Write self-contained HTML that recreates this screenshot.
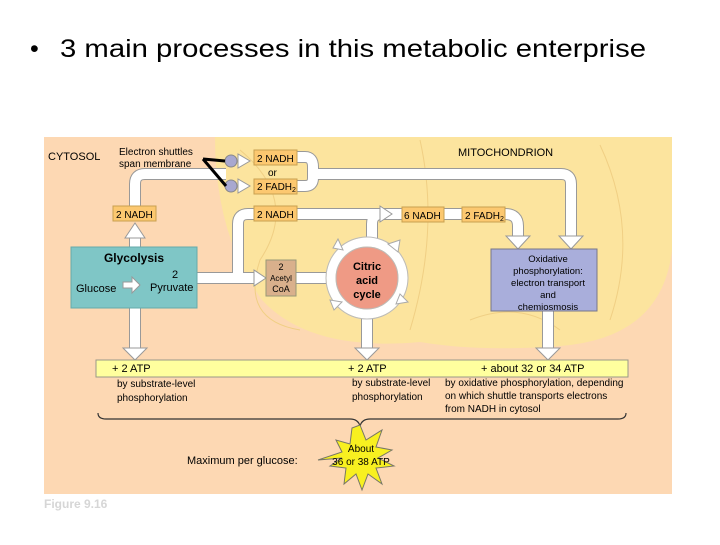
<!DOCTYPE html>
<html><head><meta charset="utf-8"><style>
body{margin:0;width:720px;height:540px;background:#fff;overflow:hidden;font-family:"Liberation Sans",sans-serif}
</style></head><body>
<svg width="720" height="540" xmlns="http://www.w3.org/2000/svg" font-family="Liberation Sans, sans-serif">
<text x="30" y="57" font-size="25" fill="#000">•</text>
<text x="60" y="57" font-size="25" fill="#000" textLength="586" lengthAdjust="spacingAndGlyphs">3 main processes in this metabolic enterprise</text>
<rect x="44" y="137" width="628" height="357" fill="#fdd8b3"/>
<path d="M215,137 L672,137 L672,250 Q662,338 560,346 Q480,352 420,342 Q310,352 262,300 Q215,235 215,137 Z" fill="#fce49e"/>
<g fill="none" stroke="#f0cf84" stroke-width="1">
<path d="M240,150 Q300,200 260,260 Q240,320 300,330"/>
<path d="M420,140 Q440,230 410,330"/>
<path d="M600,145 Q640,230 610,320"/>
<path d="M470,320 Q520,300 560,330"/>
</g>
<g stroke-linecap="butt" stroke-linejoin="round" fill="none">
<g stroke="#999" stroke-width="12">
<path d="M135,247 V238"/><path d="M135,206 V184 Q135,174 145,174 H226"/>
<path d="M297,157 H305 Q313,157 313,167 V178 Q313,186 305,186 H297"/>
<path d="M313,174 H561 Q571,174 571,184 V236"/>
<path d="M135,308 V348"/>
<path d="M197,278 H254"/><path d="M238,278 V224 Q238,214 248,214 H254"/>
<path d="M297,214 H380"/>
<path d="M296,278 H326"/>
<path d="M367,316 V348"/>
<path d="M372,242 V224 Q372,214 382,214 H402"/><path d="M444,214 H462"/><path d="M505,214 Q518,214 518,226 V236"/>
<path d="M548,311 V348"/>
</g>
<g stroke="#fff" stroke-width="10">
<path d="M135,247 V238"/><path d="M135,206 V184 Q135,174 145,174 H226"/>
<path d="M297,157 H305 Q313,157 313,167 V178 Q313,186 305,186 H297"/>
<path d="M313,174 H561 Q571,174 571,184 V236"/>
<path d="M135,308 V348"/>
<path d="M197,278 H254"/><path d="M238,278 V224 Q238,214 248,214 H254"/>
<path d="M297,214 H380"/>
<path d="M296,278 H326"/>
<path d="M367,316 V348"/>
<path d="M372,242 V224 Q372,214 382,214 H402"/><path d="M444,214 H462"/><path d="M505,214 Q518,214 518,226 V236"/>
<path d="M548,311 V348"/>
</g>
</g>
<g fill="#fff" stroke="#999" stroke-width="1">
<polygon points="125,238 145,238 135,223"/>
<polygon points="254,270 254,286 266,278"/>
<polygon points="380,206 380,222 392,214"/>
<polygon points="559,236 583,236 571,249"/>
<polygon points="506,236 530,236 518,249"/>
<polygon points="123,348 147,348 135,360"/>
<polygon points="355,348 379,348 367,360"/>
<polygon points="536,348 560,348 548,360"/>
<polygon points="238,154 238,168 250,161"/>
<polygon points="238,179 238,193 250,186"/>
</g>
<circle cx="367" cy="278" r="36" fill="none" stroke="#fff" stroke-width="9"/>
<circle cx="367" cy="278" r="41" fill="none" stroke="#bbb" stroke-width="1"/>
<circle cx="367" cy="278" r="31" fill="#ef9a85" stroke="#bbb"/>
<g fill="#fff" stroke="#aaa"><polygon points="388,244 400,240 398,252"/><polygon points="333,248 338,239 343,250"/><polygon points="400,294 408,302 396,304"/><polygon points="334,310 330,300 342,302"/></g>
<text x="367" y="270" font-size="11" font-weight="bold" text-anchor="middle">Citric</text>
<text x="367" y="284" font-size="11" font-weight="bold" text-anchor="middle">acid</text>
<text x="367" y="298" font-size="11" font-weight="bold" text-anchor="middle">cycle</text>
<circle cx="231" cy="161" r="6" fill="#a8a8d0" stroke="#888"/>
<circle cx="231" cy="186" r="6" fill="#a8a8d0" stroke="#888"/>
<path d="M203,159 L225,161 M203,159 L226,186" stroke="#000" stroke-width="3"/>
<g fill="#fcc870" stroke="#c9a050">
<rect x="254" y="150" width="43" height="15"/><rect x="254" y="179" width="43" height="15"/>
<rect x="113" y="206" width="43" height="15"/><rect x="254" y="206" width="43" height="15"/>
<rect x="402" y="207" width="42" height="15"/><rect x="462" y="207" width="43" height="15"/>
</g>
<g font-size="10" fill="#000">
<text x="257" y="162">2 NADH</text><text x="268" y="176">or</text><text x="257" y="190">2 FADH<tspan font-size="7" dy="2">2</tspan></text>
<text x="116" y="218">2 NADH</text><text x="257" y="218">2 NADH</text>
<text x="404" y="219">6 NADH</text><text x="465" y="219">2 FADH<tspan font-size="7" dy="2">2</tspan></text>
</g>
<text x="48" y="160" font-size="11">CYTOSOL</text>
<text x="119" y="155" font-size="10">Electron shuttles</text>
<text x="119" y="167" font-size="10">span membrane</text>
<text x="458" y="156" font-size="11">MITOCHONDRION</text>
<rect x="71" y="247" width="126" height="61" fill="#7fc6c6" stroke="#6aa"/>
<text x="134" y="262" font-size="12" font-weight="bold" text-anchor="middle">Glycolysis</text>
<text x="76" y="292" font-size="11">Glucose</text>
<polygon points="123,282 132,282 132,277 140,285 132,293 132,288 123,288" fill="#fff" stroke="#999"/>
<text x="175" y="278" font-size="11" text-anchor="middle">2</text>
<text x="150" y="291" font-size="11">Pyruvate</text>
<rect x="266" y="260" width="30" height="36" fill="#d9b08c" stroke="#997"/>
<text x="281" y="270" font-size="9" text-anchor="middle">2</text>
<text x="281" y="281" font-size="8" text-anchor="middle">Acetyl</text>
<text x="281" y="292" font-size="9" text-anchor="middle">CoA</text>
<rect x="491" y="249" width="106" height="62" fill="#a9aedb" stroke="#778"/>
<g font-size="9.5" text-anchor="middle"><text x="548" y="262">Oxidative</text><text x="548" y="274">phosphorylation:</text><text x="548" y="286">electron transport</text><text x="548" y="298">and</text><text x="548" y="310">chemiosmosis</text></g>
<rect x="96" y="360" width="532" height="17" fill="#ffff9e" stroke="#998"/>
<g font-size="11"><text x="112" y="372">+ 2 ATP</text><text x="348" y="372">+ 2 ATP</text><text x="481" y="372">+ about 32 or 34 ATP</text></g>
<g font-size="10"><text x="117" y="387">by substrate-level</text><text x="117" y="401">phosphorylation</text>
<text x="352" y="386">by substrate-level</text><text x="352" y="400">phosphorylation</text>
<text x="445" y="386">by oxidative phosphorylation, depending</text><text x="445" y="399">on which shuttle transports electrons</text><text x="445" y="412">from NADH in cytosol</text></g>
<path d="M98,413 Q98,419 106,419 H350 Q358,419 360,426 Q362,419 370,419 H618 Q626,419 626,413" fill="none" stroke="#333" stroke-width="1.2"/>
<polygon points="360,425 366,440 382,430 376,447 392,450 378,458 394,466 376,468 382,484 368,474 362,490 356,474 344,484 346,468 330,466 342,458 318,460 342,452 336,440 350,444 352,428" fill="#f8f020" stroke="#776"/>
<text x="361" y="452" font-size="10" text-anchor="middle">About</text>
<text x="361" y="465" font-size="10" text-anchor="middle">36 or 38 ATP</text>
<text x="187" y="464" font-size="11">Maximum per glucose:</text>
<text x="44" y="508" font-size="12" font-weight="bold" fill="#d6d6d6">Figure 9.16</text>
</svg>
</body></html>
